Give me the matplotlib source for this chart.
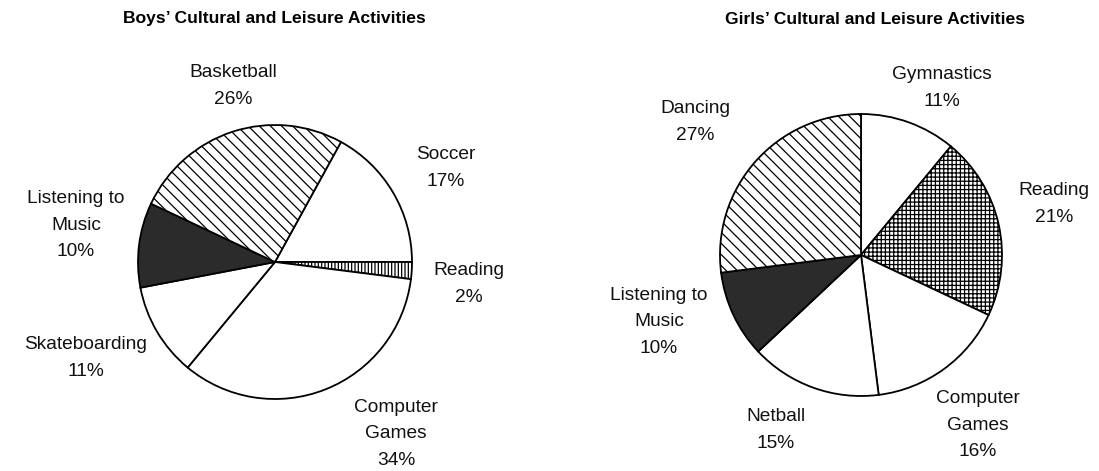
import matplotlib
matplotlib.use("Agg")
import matplotlib.pyplot as plt

plt.rcParams['font.family'] = ['Liberation Sans', 'DejaVu Sans']
plt.rcParams['hatch.linewidth'] = 0.9

boys_labels = ["Soccer", "Reading", "Computer\nGames", "Skateboarding", "Listening to\nMusic", "Basketball"]
boys_values = [17, 2, 34, 11, 10, 26]
boys_hatch = ["", "|||||", "", "", "", "\\\\\\"]
boys_color = ["white", "white", "white", "white", "#2b2b2b", "white"]

girls_labels = ["Gymnastics", "Reading", "Computer\nGames", "Netball", "Listening to\nMusic", "Dancing"]
girls_values = [11, 21, 16, 15, 10, 27]
girls_hatch = ["", "++++", "", "", "", "\\\\\\"]
girls_color = ["white", "white", "white", "white", "#2b2b2b", "white"]

W, H = 1099, 471
fig = plt.figure(figsize=(W / 100, H / 100), dpi=100)
ax = fig.add_axes([0, 0, 1, 1])

def Y(y):
    return H - y

def draw_pie(values, colors, hatches, center, radius, start):
    wedges, _ = ax.pie(values, colors=colors, startangle=start, counterclock=False,
                       center=center, radius=radius,
                       wedgeprops=dict(edgecolor='black', linewidth=1.3), frame=True)
    for w, h in zip(wedges, hatches):
        if h:
            w.set_hatch(h)

# Soccer ends at 0 deg -> start angle = soccer share in degrees
start_boys = 360 * boys_values[0] / 100
draw_pie(boys_values, boys_color, boys_hatch, (275, Y(262)), 137, start_boys)
draw_pie(girls_values, girls_color, girls_hatch, (861, Y(255)), 141, 90)
ax.set_xlim(0, W)
ax.set_ylim(0, H)
ax.set_aspect('equal')
ax.axis('off')

fs = 13.8
def label(x, y, s):
    ax.text(x, Y(y), s, ha='center', va='center', fontsize=fs, linespacing=1.72, color='#111111')

# boys labels (pixel centres)
label(233, 86, "Basketball\n26%")
label(446, 168, "Soccer\n17%")
label(76, 225, "Listening to\nMusic\n10%")
label(469, 284, "Reading\n2%")
label(86, 358, "Skateboarding\n11%")
label(396, 434, "Computer\nGames\n34%")

# girls labels
label(942, 88, "Gymnastics\n11%")
label(695, 122, "Dancing\n27%")
label(1054, 204, "Reading\n21%")
label(659, 322, "Listening to\nMusic\n10%")
label(776, 430, "Netball\n15%")
label(978, 425, "Computer\nGames\n16%")

ax.text(274, Y(19), "Boys\u2019 Cultural and Leisure Activities", ha='center', va='center',
        fontsize=12.6, fontweight='bold')
ax.text(875, Y(19), "Girls\u2019 Cultural and Leisure Activities", ha='center', va='center',
        fontsize=12.6, fontweight='bold')

fig.savefig("out.png", dpi=100, facecolor='white')
